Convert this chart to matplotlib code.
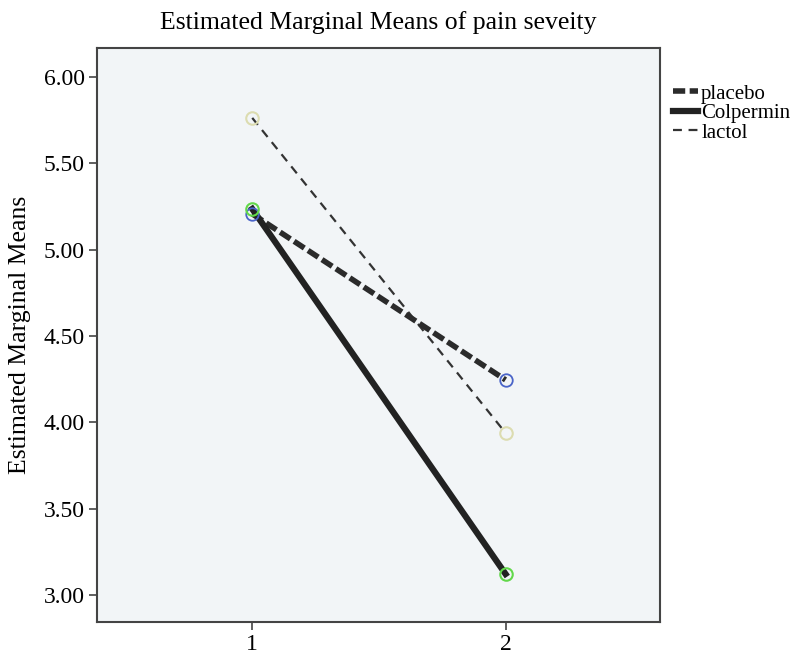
import matplotlib
matplotlib.use('Agg')
import matplotlib.pyplot as plt
from matplotlib.lines import Line2D

plt.rcParams['font.family'] = ['Liberation Serif', 'DejaVu Serif']

# time points and estimated marginal means
x = [1, 2]
placebo = [5.207, 4.246]
colpermin = [5.236, 3.122]
lactol = [5.763, 3.939]
yticks = [3.00, 3.50, 4.00, 4.50, 5.00, 5.50, 6.00]

fig = plt.figure(figsize=(8.05, 6.69), dpi=100)
ax = fig.add_axes([0.1205, 0.0703, 0.6994, 0.858])
ax.set_facecolor('#f2f5f7')

styles = {
    'placebo': dict(color='#2b2b2b', lw=4, dashes=(2.2, 0.8)),
    'Colpermin': dict(color='#222222', lw=4.5, linestyle='-'),
    'lactol': dict(color='#333333', lw=1.6, dashes=(4, 3)),
}
ax.plot(x, placebo, zorder=3, **styles['placebo'])
ax.plot(x, colpermin, zorder=3, **styles['Colpermin'])
ax.plot(x, lactol, zorder=2, **styles['lactol'])

# hollow circle markers at the means
ax.plot(x, placebo, 'o', ms=9, mfc='none', mec='#4a64c8', mew=1.3, zorder=4)
ax.plot(x, colpermin, 'o', ms=9, mfc='none', mec='#62d84a', mew=1.5, zorder=4)
ax.plot(x, lactol, 'o', ms=9, mfc='none', mec='#dcdcb0', mew=1.5, zorder=4)

ax.set_xlim(0.387, 2.61)
ax.set_ylim(2.844, 6.168)
ax.set_xticks(x)
ax.set_xticklabels(['1', '2'], fontsize=17)
ax.set_yticks(yticks)
ax.set_yticklabels(['%.2f' % v for v in yticks], fontsize=17)
ax.tick_params(color='#444444', length=6, width=1.2, pad=3)
for s in ax.spines.values():
    s.set_color('#444444')
    s.set_linewidth(1.5)

ax.set_ylabel('Estimated Marginal Means', fontsize=18.5)
ax.yaxis.set_label_coords(-0.118, 0.5)
ax.set_title('Estimated Marginal Means of pain seveity', fontsize=18.5, pad=14)

handles = [Line2D([], [], **styles[k]) for k in ['placebo', 'Colpermin', 'lactol']]
fig.legend(handles, ['placebo', 'Colpermin', 'lactol'], loc='upper left',
           bbox_to_anchor=(673 / 805, 1 - 84 / 669), frameon=False,
           fontsize=15, handlelength=1.2, handletextpad=0.15,
           labelspacing=0.0, borderpad=0, borderaxespad=0)

fig.savefig('out.png', dpi=100)
